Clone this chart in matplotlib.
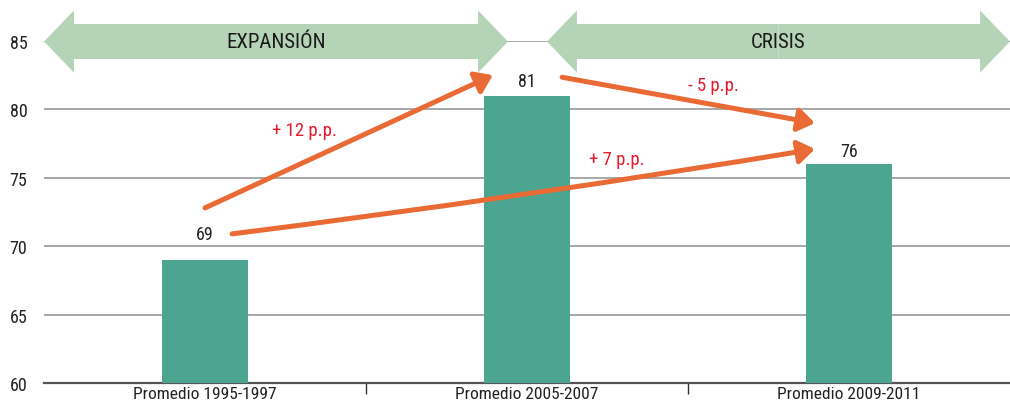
import matplotlib.pyplot as plt
from matplotlib.patches import FancyArrow

categories = ['Promedio 1995-1997', 'Promedio 2005-2007', 'Promedio 2009-2011']
values = [69, 81, 76]
label_offsets = [12, 4, 3]  # points above bar top

# phase bands drawn at the top (start, end in category units)
phases = ['EXPANSIÓN', 'CRISIS']
phase_start = [-0.5, 1.062]
phase_end = [0.941, 2.5]

# orange change arrows: (x0, y0) -> (x1, y1), label and label position
changes = ['+ 12 p.p.', '- 5 p.p.', '+ 7 p.p.']
change_from = [(0.0, 72.8), (1.109, 82.35), (0.084, 70.9)]
change_to = [(0.894, 82.5), (1.894, 79.0), (1.894, 77.1)]
change_label_pos = [(0.31, 78.5), (1.58, 81.76), (1.28, 76.37)]
change_curve = [0.0, 0.0, 0.01]

plt.rcParams['font.family'] = ['Roboto Condensed', 'Roboto', 'DejaVu Sans']

fig = plt.figure(figsize=(10.1, 4.1), dpi=100)
ax = fig.add_axes([0.0436, 0.0634, 0.9564, 0.8342])

x = list(range(len(categories)))
ax.bar(x, values, width=0.27, color='#4ba590', zorder=3)
ax.set_xlim(-0.5, 2.5)
ax.set_ylim(60, 85)
ax.set_yticks([60, 65, 70, 75, 80, 85])
ax.grid(axis='y', color='#a0a0a0', linewidth=1.3, zorder=0)
for s in ['top', 'right', 'left']:
    ax.spines[s].set_visible(False)
ax.spines['bottom'].set_color('#555555')
ax.spines['bottom'].set_linewidth(1.6)
ax.tick_params(axis='y', length=0, labelsize=13, colors='#222222', pad=12)
ax.set_xticks(x)
ax.set_xticklabels(categories, fontsize=12.5, color='#222222')
ax.tick_params(axis='x', length=0, pad=2)
ax.set_xticks([0.5, 1.5], minor=True)
ax.tick_params(axis='x', which='minor', length=8, width=1, color='#333333')

for xi, v, off in zip(x, values, label_offsets):
    ax.annotate(str(v), (xi, v), xytext=(0, off), textcoords='offset points',
                ha='center', va='bottom', fontsize=13, color='#222222', zorder=5)

# phase arrows
for name, a, b in zip(phases, phase_start, phase_end):
    head_len = 0.093
    for x0, dx in [((a + b) / 2, (b - a) / 2), ((a + b) / 2, -(b - a) / 2)]:
        arr = FancyArrow(x0, 84.96, dx, 0, width=2.56, head_width=4.54,
                         head_length=head_len, length_includes_head=True,
                         color='#b5d3b7', linewidth=0, clip_on=False, zorder=4)
        ax.add_patch(arr)
    ax.text((a + b) / 2, 84.96, name, ha='center', va='center', fontsize=15,
            color='#1a1a1a', zorder=6)

# change arrows
for lab, p0, p1, lp, rad in zip(changes, change_from, change_to, change_label_pos, change_curve):
    ax.annotate('', xy=p1, xytext=p0,
                arrowprops=dict(arrowstyle='-|>,head_length=1.0,head_width=0.7',
                                color='#ea6a36', lw=3.6,
                                connectionstyle=f'arc3,rad={rad}',
                                shrinkA=0, shrinkB=0),
                zorder=5)
    ax.text(lp[0], lp[1], lab, ha='center', va='center', fontsize=13.5,
            color='#e8192c', zorder=6)

fig.savefig('out.png', dpi=100)
